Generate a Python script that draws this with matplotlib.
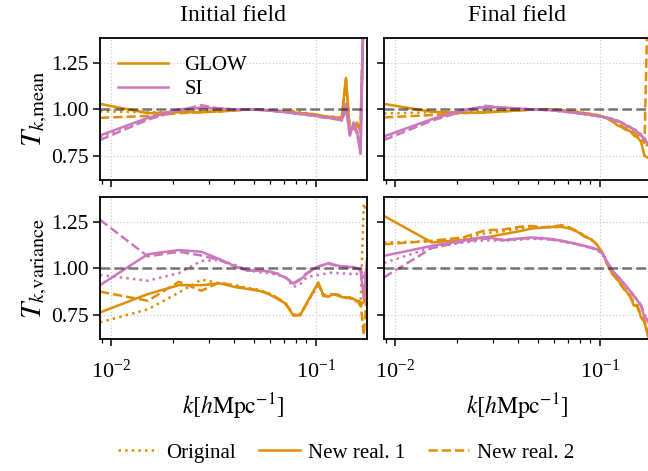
import matplotlib
matplotlib.use("Agg")
import matplotlib.pyplot as plt
from matplotlib.lines import Line2D

plt.rcParams["font.family"] = ["Liberation Serif", "DejaVu Serif"]
plt.rcParams["mathtext.fontset"] = "stix"

GLOW_COLOR = "#de8f05"
SI_COLOR = "#cc78bc"

K = [0.0088, 0.0151, 0.0214, 0.0276, 0.0339, 0.0402, 0.0465, 0.0528, 0.0590, 0.0653,
     0.0716, 0.0779, 0.0842, 0.0905, 0.0967, 0.1030, 0.1093, 0.1156, 0.1219, 0.1281,
     0.1344, 0.1407, 0.1470, 0.1533, 0.1595, 0.1658, 0.1721, 0.1784]

# initial field, mean transfer
init_mean_glow_orig = [0.99, 0.985, 0.985, 0.99, 0.99, 0.995, 1.0, 1.0, 0.995, 0.995, 0.99, 0.99, 0.985, 0.98,
                       0.975, 0.97, 0.965, 0.96, 0.96, 0.955, 0.955, 1.15, 0.89, 0.9, 0.92, 0.88, 1.6, 1.7]
init_mean_glow_new1 = [1.03, 0.98, 0.985, 0.985, 0.99, 0.995, 1.0, 1.0, 0.995, 0.99, 0.99, 0.985, 0.98, 0.978,
                       0.975, 0.97, 0.965, 0.96, 0.96, 0.955, 0.96, 1.17, 0.88, 0.9, 0.93, 0.88, 1.6, 1.7]
init_mean_glow_new2 = [0.955, 0.965, 0.98, 0.985, 0.99, 0.995, 1.0, 1.0, 0.995, 0.99, 0.99, 0.985, 0.98, 0.978,
                       0.975, 0.97, 0.965, 0.96, 0.955, 0.955, 0.955, 1.16, 0.89, 0.9, 0.92, 0.89, 1.6, 1.7]
init_mean_si_orig = [0.85, 0.95, 0.995, 1.01, 1.005, 1.0, 1.0, 0.998, 0.995, 0.99, 0.985, 0.98, 0.975, 0.972,
                     0.968, 0.963, 0.958, 0.955, 0.952, 0.948, 0.945, 1.02, 0.86, 0.92, 0.88, 0.77, 1.6, 1.7]
init_mean_si_new1 = [0.86, 0.955, 1.0, 1.01, 1.005, 1.0, 1.0, 0.998, 0.995, 0.99, 0.985, 0.98, 0.975, 0.972,
                     0.968, 0.963, 0.958, 0.955, 0.95, 0.948, 0.94, 1.03, 0.86, 0.93, 0.88, 0.76, 1.6, 1.7]
init_mean_si_new2 = [0.835, 0.945, 0.995, 1.023, 1.005, 1.0, 1.0, 0.998, 0.995, 0.99, 0.985, 0.98, 0.975, 0.97,
                     0.967, 0.962, 0.957, 0.953, 0.95, 0.946, 0.942, 1.0, 0.87, 0.91, 0.87, 0.78, 1.6, 1.7]

# final field, mean transfer
final_mean_glow_orig = [0.978, 0.985, 0.985, 0.99, 0.993, 0.996, 0.999, 1.0, 0.998, 0.995, 0.99, 0.986, 0.98, 0.975,
                        0.97, 0.962, 0.952, 0.94, 0.925, 0.91, 0.895, 0.885, 0.87, 0.86, 0.845, 0.83, 0.8, 0.78]
final_mean_glow_new1 = [1.03, 0.987, 0.982, 0.984, 0.99, 0.995, 0.999, 1.0, 0.998, 0.995, 0.99, 0.986, 0.98, 0.975,
                        0.97, 0.962, 0.95, 0.935, 0.915, 0.905, 0.89, 0.885, 0.86, 0.85, 0.825, 0.75, 0.74, 0.73]
final_mean_glow_new2 = [0.957, 0.97, 0.98, 0.985, 0.99, 0.995, 0.999, 1.0, 0.998, 0.995, 0.99, 0.986, 0.98, 0.975,
                        0.97, 0.962, 0.952, 0.94, 0.925, 0.91, 0.9, 0.89, 0.875, 0.86, 0.84, 0.82, 1.6, 1.7]
final_mean_si_orig = [0.85, 0.945, 0.995, 1.012, 1.01, 1.005, 1.0, 0.998, 0.995, 0.99, 0.985, 0.98, 0.975, 0.97,
                      0.965, 0.96, 0.955, 0.948, 0.94, 0.93, 0.918, 0.905, 0.895, 0.885, 0.865, 0.845, 0.82, 0.8]
final_mean_si_new1 = [0.855, 0.948, 0.997, 1.015, 1.01, 1.005, 1.0, 0.998, 0.995, 0.99, 0.985, 0.98, 0.975, 0.97,
                      0.965, 0.96, 0.955, 0.948, 0.938, 0.928, 0.915, 0.905, 0.89, 0.878, 0.86, 0.84, 0.815, 0.8]
final_mean_si_new2 = [0.835, 0.94, 0.99, 1.02, 1.01, 1.005, 1.0, 0.998, 0.995, 0.99, 0.985, 0.98, 0.975, 0.97,
                      0.965, 0.96, 0.955, 0.948, 0.94, 0.93, 0.918, 0.905, 0.893, 0.88, 0.862, 0.842, 0.82, 0.8]

# initial field, variance transfer
init_var_glow_orig = [0.71, 0.78, 0.87, 0.94, 0.92, 0.91, 0.895, 0.885, 0.865, 0.84, 0.81, 0.75, 0.755, 0.81,
                      0.865, 0.91, 0.86, 0.855, 0.865, 0.855, 0.845, 0.845, 0.84, 0.83, 0.82, 0.8, 1.35, 1.3]
init_var_glow_new1 = [0.763, 0.862, 0.91, 0.91, 0.92, 0.9, 0.89, 0.88, 0.862, 0.835, 0.81, 0.745, 0.75, 0.815,
                      0.87, 0.925, 0.855, 0.848, 0.862, 0.855, 0.845, 0.844, 0.84, 0.835, 0.826, 0.8, 0.82, 0.95]
init_var_glow_new2 = [0.875, 0.826, 0.928, 0.88, 0.925, 0.905, 0.892, 0.882, 0.865, 0.84, 0.805, 0.75, 0.748, 0.812,
                      0.868, 0.915, 0.85, 0.85, 0.86, 0.86, 0.85, 0.84, 0.845, 0.835, 0.83, 0.82, 0.64, 0.88]
init_var_si_orig = [0.965, 0.934, 0.975, 1.041, 1.045, 1.02, 0.99, 0.98, 0.975, 0.965, 0.95, 0.9, 0.916, 0.952,
                    0.96, 0.965, 0.97, 0.975, 0.978, 0.975, 0.97, 0.975, 0.97, 0.975, 0.97, 0.985, 0.97, 1.0]
init_var_si_new1 = [0.91, 1.077, 1.099, 1.09, 1.05, 1.012, 0.988, 0.988, 0.984, 0.97, 0.948, 0.918, 0.94, 0.97,
                    0.993, 1.011, 1.018, 1.03, 1.022, 1.015, 1.012, 1.012, 1.008, 1.008, 1.0, 0.99, 0.84, 1.05]
init_var_si_new2 = [1.262, 1.065, 1.09, 1.07, 1.045, 1.01, 0.99, 0.99, 0.985, 0.972, 0.95, 0.92, 0.945, 0.975,
                    0.995, 1.01, 1.02, 1.025, 1.02, 1.012, 1.01, 1.005, 1.005, 1.0, 1.0, 0.995, 0.95, 1.0]

# final field, variance transfer
final_var_glow_orig = [1.14, 1.145, 1.16, 1.19, 1.2, 1.215, 1.222, 1.222, 1.222, 1.225, 1.218, 1.2, 1.175, 1.158,
                       1.13, 1.085, 1.02, 0.97, 0.94, 0.91, 0.88, 0.855, 0.81, 0.8, 0.74, 0.71, 0.66, 0.6]
final_var_glow_new1 = [1.283, 1.14, 1.154, 1.167, 1.185, 1.2, 1.215, 1.22, 1.224, 1.224, 1.215, 1.197, 1.172, 1.158,
                       1.131, 1.086, 1.023, 0.969, 0.943, 0.91, 0.88, 0.853, 0.8, 0.8, 0.737, 0.71, 0.64, 0.6]
final_var_glow_new2 = [1.13, 1.149, 1.167, 1.206, 1.21, 1.224, 1.229, 1.222, 1.226, 1.233, 1.22, 1.2, 1.175, 1.16,
                       1.13, 1.085, 1.02, 0.97, 0.94, 0.905, 0.875, 0.85, 0.82, 0.79, 0.74, 0.72, 0.65, 0.6]
final_var_si_orig = [1.03, 1.113, 1.14, 1.152, 1.15, 1.155, 1.16, 1.158, 1.155, 1.145, 1.138, 1.128, 1.12, 1.11,
                     1.1, 1.08, 1.03, 0.985, 0.96, 0.935, 0.905, 0.88, 0.855, 0.83, 0.8, 0.75, 0.72, 0.68]
final_var_si_new1 = [1.068, 1.122, 1.149, 1.17, 1.152, 1.161, 1.167, 1.163, 1.158, 1.149, 1.14, 1.131, 1.122, 1.113,
                     1.104, 1.083, 1.032, 0.988, 0.961, 0.934, 0.907, 0.88, 0.853, 0.826, 0.8, 0.737, 0.72, 0.68]
final_var_si_new2 = [0.952, 1.11, 1.145, 1.16, 1.155, 1.16, 1.165, 1.16, 1.155, 1.148, 1.14, 1.13, 1.12, 1.112,
                     1.102, 1.082, 1.03, 0.985, 0.96, 0.93, 0.905, 0.878, 0.85, 0.825, 0.8, 0.745, 0.72, 0.68]

PANELS = {
    (0, 0): ([init_mean_glow_orig, init_mean_glow_new1, init_mean_glow_new2],
             [init_mean_si_orig, init_mean_si_new1, init_mean_si_new2]),
    (0, 1): ([final_mean_glow_orig, final_mean_glow_new1, final_mean_glow_new2],
             [final_mean_si_orig, final_mean_si_new1, final_mean_si_new2]),
    (1, 0): ([init_var_glow_orig, init_var_glow_new1, init_var_glow_new2],
             [init_var_si_orig, init_var_si_new1, init_var_si_new2]),
    (1, 1): ([final_var_glow_orig, final_var_glow_new1, final_var_glow_new2],
             [final_var_si_orig, final_var_si_new1, final_var_si_new2]),
}
STYLES = [":", "-", "--"]
TITLES = ["Initial field", "Final field"]
YLABELS = [r"$T_{k,\!\mathrm{mean}}$", r"$T_{k,\!\mathrm{variance}}$"]
LINE_W = 1.8

fig = plt.figure(figsize=(6.48, 4.71), dpi=100)
W, H = 648.0, 471.0
lefts = [100, 384]
tops = [38, 197]
pw, ph = 267, 142

for (row, col), (glow_sets, si_sets) in PANELS.items():
    ax = fig.add_axes([lefts[col] / W, 1 - (tops[row] + ph) / H, pw / W, ph / H])
    for vals, ls in zip(glow_sets, STYLES):
        ax.plot(K, vals, color=GLOW_COLOR, ls=ls, lw=LINE_W)
    for vals, ls in zip(si_sets, STYLES):
        ax.plot(K, vals, color=SI_COLOR, ls=ls, lw=LINE_W)
    ax.axhline(1.0, color="k", ls="--", lw=1.9, alpha=0.5, zorder=3)

    ax.set_xscale("log")
    ax.set_xlim(K[0], K[-1])
    ax.set_ylim(0.62, 1.385)
    ax.set_yticks([0.75, 1.0, 1.25])
    ax.grid(True, which="major", ls=":", color="#cccccc", lw=0.9)
    ax.tick_params(which="major", direction="out", length=5, width=1.1)
    ax.tick_params(axis="y", which="major", labelsize=15.5, pad=3)
    ax.tick_params(axis="x", which="major", labelsize=16, pad=10)
    ax.tick_params(which="minor", direction="out", length=3, width=0.9)
    for sp in ax.spines.values():
        sp.set_linewidth(1.3)

    if row == 0:
        ax.set_title(TITLES[col], fontsize=17, pad=12)
        ax.tick_params(labelbottom=False)
    else:
        ax.set_xlabel(r"$k[h\mathrm{Mpc}^{-1}]$", fontsize=17, labelpad=6)
    if col == 0:
        ax.set_yticklabels(["0.75", "1.00", "1.25"])
        ax.set_ylabel(YLABELS[row], fontsize=21, labelpad=1)
    else:
        ax.tick_params(labelleft=False)

    if row == 0 and col == 0:
        handles = [Line2D([], [], color=GLOW_COLOR, lw=LINE_W), Line2D([], [], color=SI_COLOR, lw=LINE_W)]
        ax.legend(handles, ["GLOW", "SI"], loc="upper left", frameon=False, fontsize=15,
                  handlelength=2.4, handletextpad=0.8, borderaxespad=0.45, labelspacing=0.2)

style_handles = [Line2D([], [], color=GLOW_COLOR, ls=ls, lw=LINE_W) for ls in STYLES]
fig.legend(style_handles, ["Original", "New real. 1", "New real. 2"], loc="lower center",
           bbox_to_anchor=(346 / W, -0.022), ncol=3, frameon=False, fontsize=15,
           handlelength=1.95, handletextpad=0.4, columnspacing=1.1)

fig.savefig("out.png", dpi=100)
